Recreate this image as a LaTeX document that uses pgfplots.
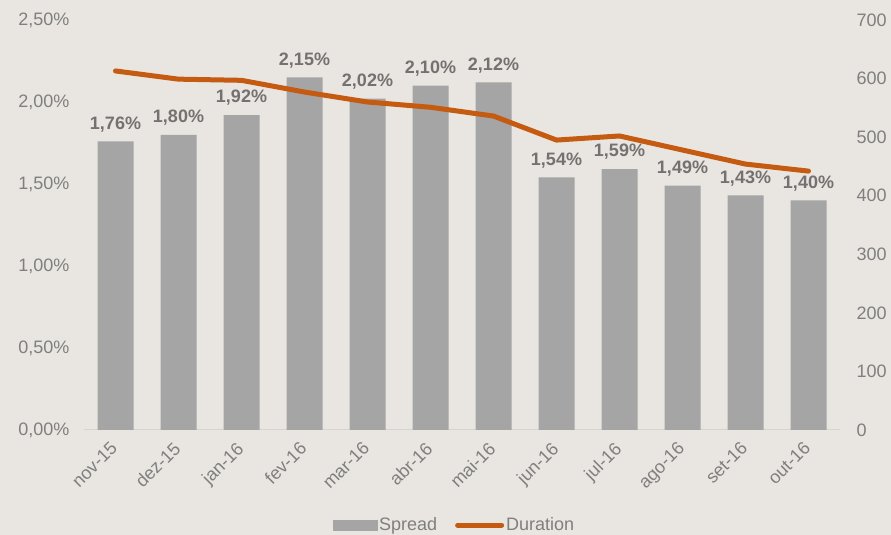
\documentclass[border=0pt]{standalone}
\usepackage{fontspec}
\setmainfont{Liberation Sans}
\usepackage{pgfplots}
\pgfplotsset{compat=1.18}
\definecolor{bgc}{RGB}{233,230,225}
\definecolor{barc}{RGB}{165,165,165}
\definecolor{linec}{RGB}{197,90,17}
\definecolor{txtc}{RGB}{127,127,127}
\definecolor{lblc}{RGB}{118,113,113}
\definecolor{axc}{RGB}{214,212,208}
\begin{document}
\begin{tikzpicture}
\fill[bgc] (0bp,0bp) rectangle (891bp,535bp);
\begin{axis}[
  at={(84bp,105bp)}, anchor=south west,
  scale only axis, width=756bp, height=410bp,
  xmin=-0.5, xmax=11.5, ymin=0, ymax=2.5,
  axis x line*=bottom, axis y line*=left,
  x axis line style={draw=axc, line width=1bp, -},
  y axis line style={draw=none},
  major tick length=0pt,
  xtick={0,...,11},
  xticklabels={nov-15,dez-15,jan-16,fev-16,mar-16,abr-16,mai-16,jun-16,jul-16,ago-16,set-16,out-16},
  ytick={0,0.5,1,1.5,2,2.5},
  yticklabels={{0,00\%},{0,50\%},{1,00\%},{1,50\%},{2,00\%},{2,50\%}},
  ticklabel style={font=\fontsize{18bp}{21bp}\selectfont, text=txtc},
  yticklabel style={xshift=-11bp},
  xticklabel style={xshift=-6bp, yshift=-9bp, rotate=45, anchor=north east, inner sep=1bp},
  clip=false,
]
\addplot[ybar, bar width=36bp, fill=barc, draw=none,
  nodes near coords, point meta=explicit symbolic,
  nodes near coords style={font=\bfseries\fontsize{18bp}{21bp}\selectfont, text=lblc, yshift=6bp}]
 coordinates {
 (0,1.76) [1,76\%]
 (1,1.80) [1,80\%]
 (2,1.92) [1,92\%]
 (3,2.15) [2,15\%]
 (4,2.02) [2,02\%]
 (5,2.10) [2,10\%]
 (6,2.12) [2,12\%]
 (7,1.54) [1,54\%]
 (8,1.59) [1,59\%]
 (9,1.49) [1,49\%]
 (10,1.43) [1,43\%]
 (11,1.40) [1,40\%]
 };
\end{axis}
\begin{axis}[
  at={(84bp,105bp)}, anchor=south west,
  scale only axis, width=756bp, height=410bp,
  xmin=-0.5, xmax=11.5, ymin=0, ymax=700,
  axis x line=none, axis y line*=right,
  y axis line style={draw=none},
  major tick length=0pt,
  ytick={0,100,200,300,400,500,600,700},
  /pgf/number format/assume math mode=true,
  ticklabel style={font=\fontsize{18bp}{21bp}\selectfont, text=txtc},
  yticklabel style={anchor=west, xshift=13bp},
  clip=false,
  legend style={at={(0.49,-0.232)}, anchor=center, draw=none, fill=none,
    font=\fontsize{18bp}{21bp}\selectfont, text=txtc, legend columns=2,
    /tikz/every even column/.append style={column sep=16bp}},
]
\addlegendimage{legend image code/.code={\fill[barc] (0bp,-5bp) rectangle (44bp,5bp);}}
\addlegendentry{Spread}
\addplot[linec, line width=5bp, line join=round, line cap=round, mark=none,
  legend image code/.code={\draw[linec, line width=5bp, line cap=round] (0bp,0bp) -- (44bp,0bp);}]
 coordinates {
 (0,613) (1,599) (2,597) (3,577) (4,560) (5,551) (6,536) (7,495) (8,502) (9,478) (10,454) (11,442)
 };
\addlegendentry{Duration}
\end{axis}
\pgfresetboundingbox
\path (0bp,0bp) rectangle (891bp,535bp);
\end{tikzpicture}
\end{document}
